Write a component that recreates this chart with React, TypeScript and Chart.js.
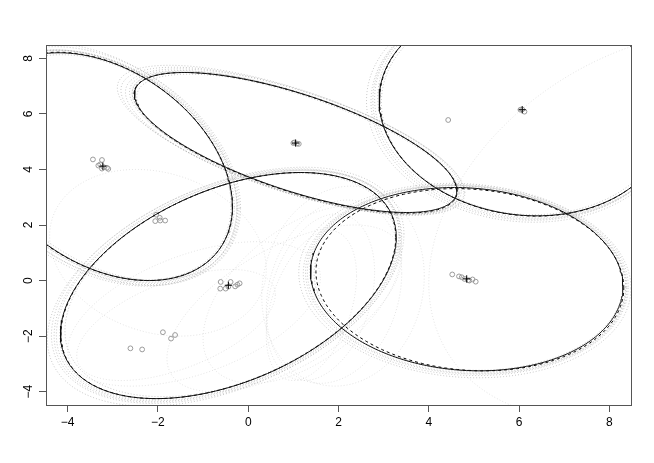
import React, { useEffect, useRef } from "react";
import { Chart, registerables } from "chart.js";

Chart.register(...registerables);

// axis ticks
const xTicks = [-4, -2, 0, 2, 4, 6, 8];
const yTicks = [-4, -2, 0, 2, 4, 6, 8];
const axisMin = -4.48;
const axisMax = 8.48;

// fitted component ellipses (solid): centre, half-width, half-height, correlation
const fitCx = [-3.2, 1.05, 6.1, -0.44, 4.84];
const fitCy = [4.1, 4.97, 6.15, -0.18, 0.05];
const fitW = [2.85, 3.57, 3.2, 3.72, 3.46];
const fitH = [4.1, 2.52, 3.82, 4.07, 3.3];
const fitRho = [-0.35, -0.69, -0.09, 0.43, -0.08];

// true component ellipses (dashed)
const trueCx = [-3.21, 1.05, 6.1, -0.44, 4.91];
const trueCy = [4.11, 4.96, 6.15, -0.18, 0.03];
const trueW = [2.86, 3.58, 3.19, 3.71, 3.41];
const trueH = [4.11, 2.53, 3.83, 4.07, 3.28];
const trueRho = [-0.35, -0.69, -0.09, 0.43, -0.09];

// ellipses from intermediate iterations close to the final ones (dotted grey)
const haloCx = [
  -3.2, -3.25, -3.15, -3.22, -3.18, -3.3, -3.21,
  1.02, 1.0, 1.05, 0.98, 1.08, 0.95, 1.03,
  6.08, 6.05, 6.12, 6.02, 6.1, 6.06,
  -0.45, -0.48, -0.42, -0.5, -0.4, -0.46,
  4.84, 4.82, 4.86, 4.8, 4.88, 4.83,
];
const haloCy = [
  4.1, 4.05, 4.15, 4.12, 4.08, 4.2, 4.11,
  4.98, 5.0, 4.95, 5.02, 4.93, 5.05, 4.97,
  6.15, 6.12, 6.18, 6.1, 6.15, 6.13,
  -0.18, -0.2, -0.15, -0.22, -0.16, -0.19,
  0.04, 0.02, 0.06, 0.0, 0.05, 0.03,
];
const haloW = [
  2.95, 3.0, 2.92, 3.05, 2.8, 3.1, 2.9,
  3.65, 3.72, 3.62, 3.8, 3.55, 3.85, 3.6,
  3.28, 3.33, 3.25, 3.4, 3.15, 3.3,
  3.8, 3.88, 3.76, 3.95, 3.66, 3.84,
  3.53, 3.6, 3.5, 3.68, 3.42, 3.56,
];
const haloH = [
  4.2, 4.25, 4.15, 4.3, 4.05, 4.35, 4.17,
  2.58, 2.62, 2.55, 2.66, 2.5, 2.7, 2.57,
  3.9, 3.95, 3.86, 4.0, 3.78, 3.92,
  4.15, 4.22, 4.12, 4.3, 4.02, 4.18,
  3.38, 3.44, 3.35, 3.5, 3.28, 3.4,
];
const haloRho = [
  -0.36, -0.33, -0.38, -0.35, -0.34, -0.37, -0.35,
  -0.7, -0.68, -0.71, -0.69, -0.67, -0.7, -0.69,
  -0.1, -0.08, -0.11, -0.09, -0.07, -0.09,
  0.43, 0.42, 0.45, 0.44, 0.41, 0.43,
  -0.08, -0.07, -0.09, -0.08, -0.06, -0.08,
];

// ellipses from early iterations, wandering (faint dotted grey)
const wanderCx = [1.6, 1.9, 1.4, 2.1, 1.2, 0.8, -1.6, -1.2, -2.0, 9.0];
const wanderCy = [-0.6, -0.4, -0.9, -0.2, -0.5, -1.0, -1.6, -1.2, 1.0, 2.0];
const wanderW = [1.2, 1.5, 1.0, 1.8, 2.2, 2.6, 2.2, 2.8, 2.4, 5.0];
const wanderH = [3.0, 3.3, 2.7, 3.6, 3.2, 3.0, 2.0, 2.6, 3.0, 7.0];
const wanderRho = [0.3, 0.2, 0.4, 0.1, 0.5, 0.6, 0.55, 0.5, -0.2, 0.3];

// estimated means over iterations (grey circles)
const meanX = [
  -3.44, -3.24, -3.28, -3.24, -3.13, -3.32, -3.2, -3.1,
  -2.04, -1.96, -2.06, -1.95, -1.84,
  1.02, 1.08, 1.12, 1.0,
  6.03, 6.12, 6.07, 4.43,
  -0.61, -0.39, -0.19, -0.62, -0.5, -0.29, -0.24, -0.44,
  -1.89, -1.62, -1.71, -2.61, -2.35,
  4.52, 4.67, 4.73, 4.87, 4.97, 5.04, 4.79, 4.9,
];
const meanY = [
  4.36, 4.34, 4.18, 4.03, 4.06, 4.14, 4.08, 4.02,
  2.37, 2.26, 2.14, 2.16, 2.16,
  4.97, 4.93, 4.92, 4.95,
  6.15, 6.08, 6.16, 5.78,
  -0.05, -0.05, -0.1, -0.29, -0.29, -0.21, -0.15, -0.22,
  -1.86, -1.96, -2.09, -2.44, -2.48,
  0.22, 0.15, 0.12, 0.01, 0.04, -0.04, 0.06, 0.0,
];

// true means (+)
const centerX = [-3.22, 1.05, 6.07, -0.44, 4.84];
const centerY = [4.12, 4.95, 6.15, -0.17, 0.06];

function outline(cx: number, cy: number, w: number, h: number, rho: number) {
  const pts: { x: number; y: number }[] = [];
  const s = Math.sqrt(1 - rho * rho);
  const n = 240;
  for (let i = 0; i <= n; i++) {
    const t = (2 * Math.PI * i) / n;
    pts.push({ x: cx + w * Math.cos(t), y: cy + h * (rho * Math.cos(t) + s * Math.sin(t)) });
  }
  return pts;
}

const fmt = (v: number) => (v < 0 ? "\u2212" + Math.abs(v) : String(v));
const FONT = "12px 'Liberation Sans', Arial, sans-serif";

const boxPlugin = {
  id: "rbox",
  afterDraw(chart: any) {
    const { ctx, chartArea } = chart;
    ctx.save();
    ctx.strokeStyle = "#555";
    ctx.lineWidth = 1;
    ctx.strokeRect(
      Math.round(chartArea.left) + 0.5,
      Math.round(chartArea.top) + 0.5,
      Math.round(chartArea.right - chartArea.left),
      Math.round(chartArea.bottom - chartArea.top)
    );
    // rotated y tick labels (R style, reading bottom to top)
    const ys = chart.scales.y;
    ctx.fillStyle = "#000";
    ctx.font = FONT;
    ctx.textAlign = "center";
    ctx.textBaseline = "middle";
    yTicks.forEach((v) => {
      const py = ys.getPixelForValue(v);
      ctx.save();
      ctx.translate(29, py);
      ctx.rotate(-Math.PI / 2);
      ctx.fillText(fmt(v), 0, 0);
      ctx.restore();
    });
    ctx.restore();
  },
};

export default function App() {
  const ref = useRef<HTMLCanvasElement | null>(null);
  useEffect(() => {
    if (!ref.current) return;
    const datasets: any[] = [];
    datasets.push({
      label: "true means",
      data: centerX.map((x, i) => ({ x, y: centerY[i] })),
      showLine: false,
      pointStyle: "cross",
      pointRadius: 3.6,
      borderColor: "#000",
      borderWidth: 1,
      order: 0,
    });
    fitCx.forEach((_, i) => {
      datasets.push({
        label: "fit" + i,
        data: outline(fitCx[i], fitCy[i], fitW[i], fitH[i], fitRho[i]),
        showLine: true,
        pointRadius: 0,
        borderColor: "#111",
        borderWidth: 1,
        tension: 0,
        order: 1,
      });
      datasets.push({
        label: "true" + i,
        data: outline(trueCx[i], trueCy[i], trueW[i], trueH[i], trueRho[i]),
        showLine: true,
        pointRadius: 0,
        borderColor: "#000",
        borderWidth: 1,
        borderDash: [3, 3],
        tension: 0,
        order: 1,
      });
    });
    datasets.push({
      label: "means",
      data: meanX.map((x, i) => ({ x, y: meanY[i] })),
      showLine: false,
      pointStyle: "circle",
      pointRadius: 2.4,
      backgroundColor: "rgba(0,0,0,0)",
      borderColor: "#9a9a9a",
      borderWidth: 1,
      order: 2,
    });
    haloCx.forEach((_, i) => {
      datasets.push({
        label: "halo" + i,
        data: outline(haloCx[i], haloCy[i], haloW[i], haloH[i], haloRho[i]),
        showLine: true,
        pointRadius: 0,
        borderColor: "rgba(150,150,150,0.5)",
        borderWidth: 1,
        borderDash: [1, 2],
        tension: 0,
        order: 3,
      });
    });
    wanderCx.forEach((_, i) => {
      datasets.push({
        label: "wander" + i,
        data: outline(wanderCx[i], wanderCy[i], wanderW[i], wanderH[i], wanderRho[i]),
        showLine: true,
        pointRadius: 0,
        borderColor: "rgba(170,170,170,0.3)",
        borderWidth: 1,
        borderDash: [1, 2],
        tension: 0,
        order: 4,
      });
    });

    const chart = new Chart(ref.current, {
      type: "scatter",
      data: { datasets },
      plugins: [boxPlugin],
      options: {
        animation: false,
        responsive: false,
        maintainAspectRatio: false,
        events: [],
        layout: { padding: { top: 45, right: 23, left: 0, bottom: 0 } },
        plugins: { legend: { display: false }, tooltip: { enabled: false } },
        scales: {
          x: {
            type: "linear",
            min: axisMin,
            max: axisMax,
            afterBuildTicks: (s: any) => {
              s.ticks = xTicks.map((v) => ({ value: v }));
            },
            afterFit: (s: any) => {
              s.height = 58;
            },
            grid: { drawOnChartArea: false, drawTicks: true, tickLength: 7, color: "#555" },
            border: { display: true, color: "#555" },
            ticks: {
              autoSkip: false,
              maxRotation: 0,
              minRotation: 0,
              padding: 3,
              color: "#000",
              font: { family: "'Liberation Sans', Arial, sans-serif", size: 12 },
              callback: (v: any) => fmt(Number(v)),
            },
          },
          y: {
            type: "linear",
            min: axisMin,
            max: axisMax,
            afterBuildTicks: (s: any) => {
              s.ticks = yTicks.map((v) => ({ value: v }));
            },
            afterFit: (s: any) => {
              s.width = 46;
            },
            grid: { drawOnChartArea: false, drawTicks: true, tickLength: 7, color: "#555" },
            border: { display: true, color: "#555" },
            ticks: {
              display: false,
              autoSkip: false,
            },
          },
        },
      } as any,
    });
    return () => chart.destroy();
  }, []);
  return (
    <div style={{ position: "fixed", left: 0, top: 0, width: 654, height: 463, background: "#fff" }}>
      <canvas ref={ref} width={654} height={463} style={{ width: 654, height: 463 }} />
    </div>
  );
}
